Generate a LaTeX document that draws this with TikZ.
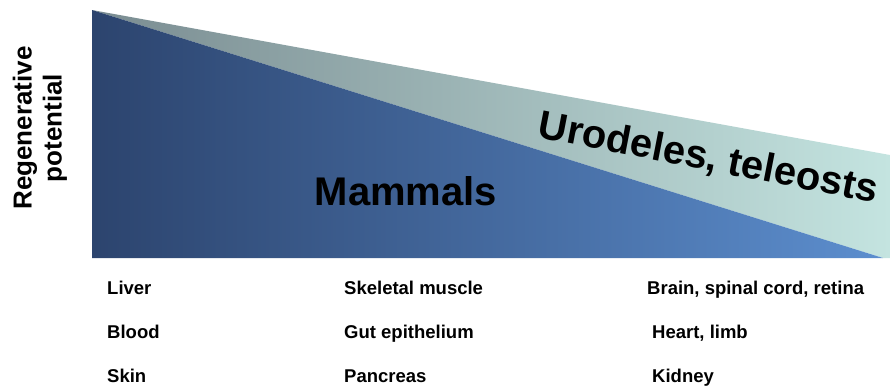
\documentclass[tikz,border=0pt]{standalone}
\usepackage{fontspec}
\setmainfont{Liberation Sans}
\begin{document}
\begin{tikzpicture}[x=1pt,y=-1pt,
  lbl/.style={font=\bfseries\fontsize{18.5}{22}\selectfont, anchor=base west, inner sep=0pt},
  big/.style={font=\bfseries\fontsize{40}{44}\selectfont, anchor=base, inner sep=0pt}]
\useasboundingbox (0,0) rectangle (890,386);
% light band (urodeles, teleosts)
\shade[left color={rgb,255:red,122;green,140;blue,145}, right color={rgb,255:red,196;green,228;blue,224}]
  (92,10) -- (890,155) -- (890,258) -- (883,258) -- cycle;
% dark triangle (mammals)
\shade[left color={rgb,255:red,44;green,68;blue,110}, right color={rgb,255:red,92;green,142;blue,206}]
  (92,10) -- (883,258) -- (92,258) -- cycle;
% axis label
\node[font=\bfseries\fontsize{26}{30}\selectfont, align=center, rotate=90, inner sep=0pt] (axis) at (40,128) {Regenerative\\potential};
% group labels
\node[big] (mammals) at (406,205) {Mammals};
\node[big, rotate=-11] (uro) at (706,170) {Urodeles, teleosts};
% tissue lists
\node[lbl] (liver) at (107,294) {Liver};
\node[lbl] (blood) at (107,338) {Blood};
\node[lbl] (skin) at (107,382) {Skin};
\node[lbl] (muscle) at (344,294) {Skeletal muscle};
\node[lbl] (gut) at (344,338) {Gut epithelium};
\node[lbl] (pancreas) at (344,382) {Pancreas};
\node[lbl] (brain) at (647,294) {Brain, spinal cord, retina};
\node[lbl] (heart) at (652,338) {Heart, limb};
\node[lbl] (kidney) at (652,382) {Kidney};
\end{tikzpicture}
\end{document}
